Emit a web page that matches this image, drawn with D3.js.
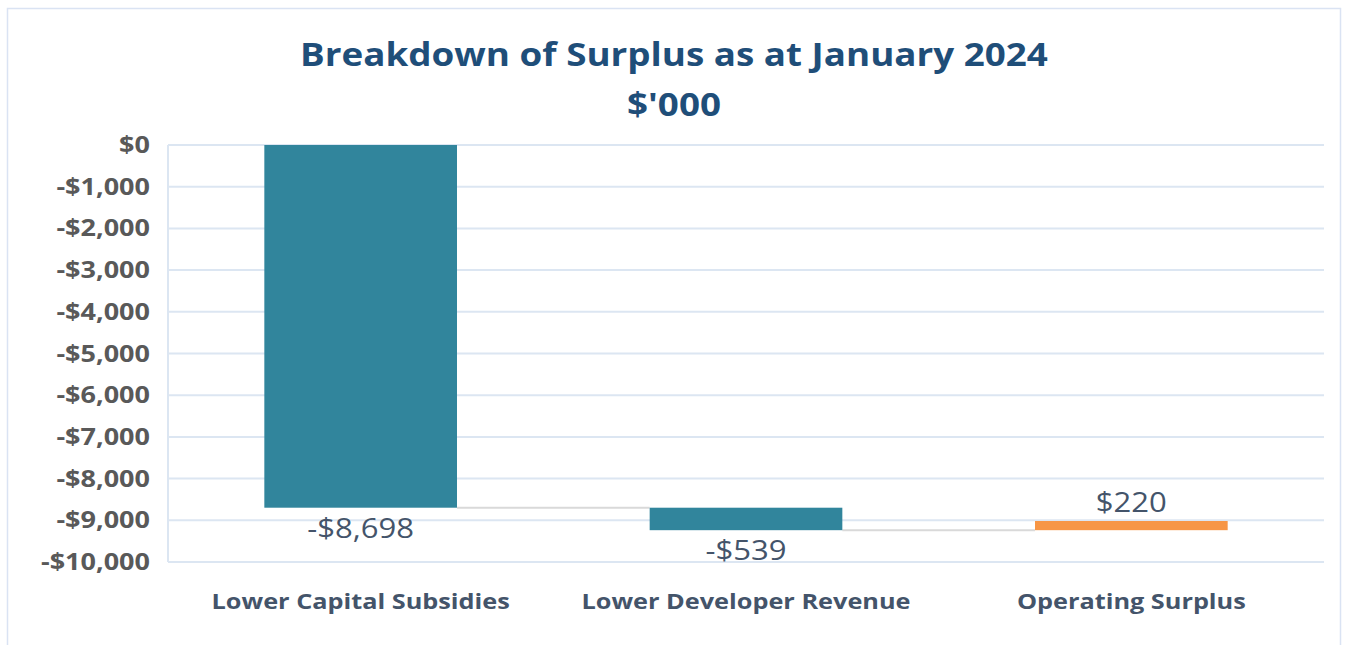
<!DOCTYPE html>
<html>
<head>
<meta charset="utf-8">
<script src="https://cdn.jsdelivr.net/npm/d3@7"></script>
<style>
  body { margin: 0; background: #ffffff; }
  svg { display: block; }
</style>
</head>
<body>
<svg id="drawing_region"></svg>
<script>
// chart values
const categories = ["Lower Capital Subsidies", "Lower Developer Revenue", "Operating Surplus"];
const values = [-8698, -539, 220];
const valueLabels = ["-$8,698", "-$539", "$220"];
const tickValues = [0, -1000, -2000, -3000, -4000, -5000, -6000, -7000, -8000, -9000, -10000];
const titleLines = ["Breakdown of Surplus as at January 2024", "$'000"];

const config = {
    width: 1346,
    height: 645,
    margin: {top: 145, right: 22, bottom: 83, left: 168}
};

const font = '"Open Sans", Lato, sans-serif';
const sx = 1.15;   // text in the source looks a bit wide

const svg = d3.select('#drawing_region')
    .attr('width', config.width)
    .attr('height', config.height);

// outer frame
svg.append('rect')
    .attr('x', 7.5).attr('y', 8.5)
    .attr('width', 1333).attr('height', 660)
    .attr('fill', 'none')
    .attr('stroke', '#dae3f3')
    .attr('stroke-width', 1.5);

const inner_width = config.width - config.margin.left - config.margin.right;
const inner_height = config.height - config.margin.top - config.margin.bottom;

const chart = svg.append('g')
    .attr('transform', `translate(${config.margin.left}, ${config.margin.top})`);

const xscale = d3.scaleBand()
    .domain(categories)
    .range([0, inner_width])
    .paddingInner(0.5)
    .paddingOuter(0.25);

const yscale = d3.scaleLinear()
    .domain([0, -10000])
    .range([0, inner_height]);

// waterfall steps
let running = 0;
const steps = values.map((v, i) => {
    const start = running;
    running += v;
    return {cat: categories[i], start: start, end: running, value: v, label: valueLabels[i]};
});

// gridlines
chart.append('g')
    .selectAll('line').data(tickValues).join('line')
    .attr('x1', 0).attr('x2', inner_width)
    .attr('y1', d => yscale(d)).attr('y2', d => yscale(d))
    .attr('stroke', '#dce6f2')
    .attr('stroke-width', 2);

chart.append('line')
    .attr('x1', 0).attr('x2', 0)
    .attr('y1', yscale(0)).attr('y2', yscale(-10000))
    .attr('stroke', '#dce6f2')
    .attr('stroke-width', 2);

// y axis labels
const yaxis = d3.axisLeft(yscale)
    .tickValues(tickValues)
    .tickSize(0)
    .tickPadding(18)
    .tickFormat(d => (d < 0 ? '-' : '') + '$' + d3.format(',')(Math.abs(d)));

chart.append('g')
    .call(yaxis)
    .call(g => g.select('.domain').remove())
    .selectAll('text')
    .attr('x', -18 / sx)
    .attr('transform', `scale(${sx},1)`)
    .attr('fill', '#595959')
    .attr('font-family', font)
    .attr('font-weight', 'bold')
    .attr('font-size', '23.5px');

// connectors
chart.append('g')
    .selectAll('line').data(steps.slice(0, -1)).join('line')
    .attr('x1', d => xscale(d.cat) + xscale.bandwidth())
    .attr('x2', (d, i) => xscale(steps[i + 1].cat))
    .attr('y1', d => yscale(d.end))
    .attr('y2', d => yscale(d.end))
    .attr('stroke', '#d9d9d9')
    .attr('stroke-width', 2);

// bars
chart.append('g')
    .selectAll('rect').data(steps).join('rect')
    .attr('x', d => xscale(d.cat))
    .attr('y', d => yscale(Math.max(d.start, d.end)))
    .attr('width', xscale.bandwidth())
    .attr('height', d => Math.abs(yscale(d.end) - yscale(d.start)))
    .attr('fill', d => d.value < 0 ? '#31859c' : '#f79646');

// value labels
chart.append('g')
    .selectAll('text').data(steps).join('text')
    .attr('transform', d => {
        const x = xscale(d.cat) + xscale.bandwidth() / 2;
        const y = d.value < 0 ? yscale(Math.min(d.start, d.end)) + 30 : yscale(Math.max(d.start, d.end)) - 9;
        return `translate(${x},${y}) scale(${sx},1)`;
    })
    .attr('text-anchor', 'middle')
    .attr('fill', '#44546a')
    .attr('font-family', font)
    .attr('font-size', '27px')
    .text(d => d.label);

// category labels
chart.append('g')
    .selectAll('text').data(categories).join('text')
    .attr('transform', d => `translate(${xscale(d) + xscale.bandwidth() / 2},${inner_height + 47}) scale(${sx},1)`)
    .attr('text-anchor', 'middle')
    .attr('fill', '#44546a')
    .attr('font-family', font)
    .attr('font-weight', 'bold')
    .attr('font-size', '22px')
    .text(d => d);

// title
svg.append('g')
    .selectAll('text').data(titleLines).join('text')
    .attr('transform', (d, i) => `translate(674,${66 + i * 50}) scale(${sx},1)`)
    .attr('text-anchor', 'middle')
    .attr('fill', '#1f4e79')
    .attr('font-family', font)
    .attr('font-weight', 'bold')
    .attr('font-size', '32px')
    .text(d => d);
</script>
</body>
</html>
